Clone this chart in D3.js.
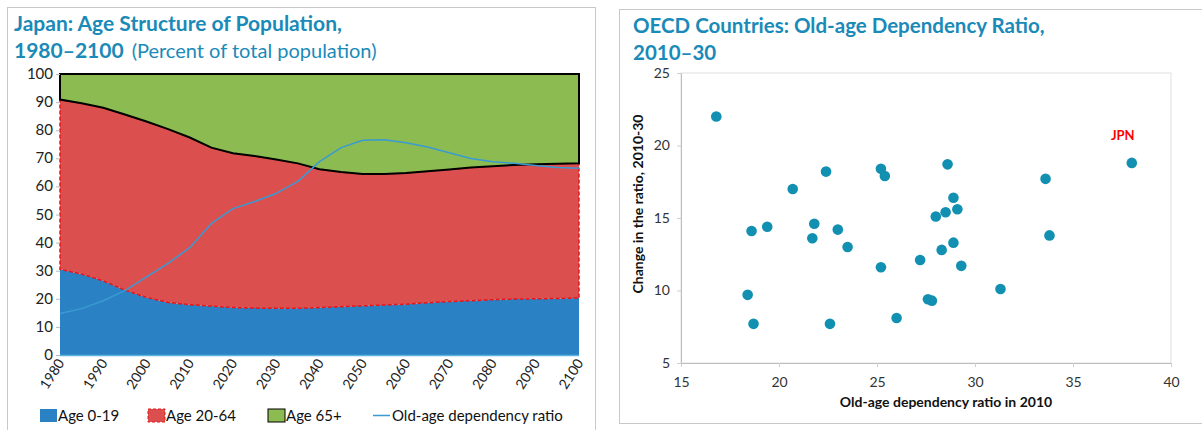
<!DOCTYPE html>
<html>
  <head>
    <meta charset="utf-8" />
    <script src="https://d3js.org/d3.v7.min.js"></script>
    <style>
      body { margin: 0; background: #fff; }
      svg { font-family: Lato, 'Open Sans', sans-serif; }
    </style>
    <title>Japan ageing</title>
  </head>
  <body>
    <div id="chart"></div>
  </body>
  <script>
    // left chart data (percent of total population, 5-year steps)
    var years = d3.range(1980, 2101, 5);
    var age0to19 = [30.5, 28.8, 26.4, 23.1, 20.5, 18.7, 17.9, 17.4, 16.9, 16.7, 16.6, 16.6, 16.9,
      17.2, 17.5, 17.8, 18.1, 18.6, 19.0, 19.3, 19.7, 19.9, 20.0, 20.1, 20.3];
    // share under 65 (0-19 plus 20-64)
    var under65 = [90.9, 89.6, 88.0, 85.6, 83.1, 80.4, 77.4, 73.8, 71.8, 70.8, 69.6, 68.2, 66.1,
      65.1, 64.4, 64.4, 64.8, 65.4, 66.0, 66.7, 67.2, 67.6, 67.9, 68.1, 68.2];
    var dependency = [14.8, 16.5, 19.3, 22.9, 27.8, 32.6, 38.2, 46.8, 52.1, 54.6, 57.5, 61.8, 68.8,
      73.8, 76.4, 76.6, 75.5, 74.0, 72.0, 69.9, 68.8, 68.2, 67.4, 66.7, 66.5];
    var yTicksLeft = d3.range(0, 101, 10);
    var xTicksLeft = d3.range(1980, 2101, 10);

    // right chart data (OECD countries)
    var ratio2010 = [16.8, 38.0, 33.6, 20.7, 22.4, 25.2, 25.4, 28.6, 28.9, 29.1, 28.5, 28.0, 18.6,
      19.4, 21.8, 23.0, 21.7, 23.5, 33.8, 28.9, 28.3, 27.2, 25.2, 29.3, 31.3, 18.4, 27.6, 27.8,
      18.7, 22.6, 26.0];
    var change2010to30 = [22.0, 18.8, 17.7, 17.0, 18.2, 18.4, 17.9, 18.7, 16.4, 15.6, 15.4, 15.1,
      14.1, 14.4, 14.6, 14.2, 13.6, 13.0, 13.8, 13.3, 12.8, 12.1, 11.6, 11.7, 10.1, 9.7, 9.4, 9.3,
      7.7, 7.7, 8.1];
    var countryLabels = ['', 'JPN'];
    var xTicksRight = [15, 20, 25, 30, 35, 40];
    var yTicksRight = [5, 10, 15, 20, 25];

    var titleColor = '#1a8ab8';

    var svg = d3.select('#chart').append('svg').attr('width', 1202).attr('height', 430);

    // panel frames
    svg.append('rect').attr('x', 7.5).attr('y', 7.5).attr('width', 588).attr('height', 430)
      .attr('fill', 'none').attr('stroke', '#c8c8c8');
    svg.append('rect').attr('x', 619.5).attr('y', 9.5).attr('width', 600).attr('height', 414)
      .attr('fill', 'none').attr('stroke', '#c8c8c8');

    // ---------- left chart ----------
    var xL = d3.scaleLinear().domain([1980, 2100]).range([60, 579]);
    var yL = d3.scaleLinear().domain([0, 100]).range([355, 74]);

    var rows = years.map(function (yr, i) {
      return {
        year: yr,
        young: age0to19[i],
        working: under65[i] - age0to19[i],
        old: 100 - under65[i],
      };
    });
    var stack = d3.stack().keys(['young', 'working', 'old']);
    var series = stack(rows);

    var area = d3.area()
      .x(function (d) { return xL(d.data.year); })
      .y0(function (d) { return yL(d[0]); })
      .y1(function (d) { return yL(d[1]); });

    var fills = { young: '#2a81c3', working: '#db4f4f', old: '#8bbb51' };
    var g = svg.append('g');
    g.selectAll('path.area')
      .data(series)
      .join('path')
      .attr('class', 'area')
      .attr('d', area)
      .attr('fill', function (d) { return fills[d.key]; })
      .attr('stroke', function (d) {
        return d.key == 'old' ? '#000' : d.key == 'working' ? '#e8161b' : 'none';
      })
      .attr('stroke-width', function (d) { return d.key == 'old' ? 2 : 1.5; })
      .attr('stroke-dasharray', function (d) { return d.key == 'working' ? '4,2' : null; });

    // bottom axis line
    svg.append('line').attr('x1', 60).attr('x2', 579).attr('y1', 355.5).attr('y2', 355.5)
      .attr('stroke', '#5bb3e0').attr('stroke-width', 1.5);

    // small y ticks
    svg.append('g').selectAll('line')
      .data(yTicksLeft)
      .join('line')
      .attr('x1', 56).attr('x2', 60)
      .attr('y1', function (d) { return yL(d) + 0.5; })
      .attr('y2', function (d) { return yL(d) + 0.5; })
      .attr('stroke', '#bbb');

    // dependency ratio line
    var line = d3.line()
      .x(function (d, i) { return xL(years[i]); })
      .y(function (d) { return yL(d); });
    svg.append('path').attr('d', line(dependency)).attr('fill', 'none')
      .attr('stroke', '#3a9ad2').attr('stroke-width', 1.5)
      .attr('stroke-linejoin', 'round');

    // y tick labels
    svg.append('g').selectAll('text')
      .data(yTicksLeft)
      .join('text')
      .attr('x', 53)
      .attr('y', function (d) { return yL(d) + 5; })
      .attr('text-anchor', 'end')
      .style('font-size', '15px')
      .style('fill', '#222')
      .text(function (d) { return d; });

    // x tick labels (rotated)
    svg.append('g').selectAll('text')
      .data(xTicksLeft)
      .join('text')
      .attr('transform', function (d) {
        return 'translate(' + (xL(d) + 5) + ',' + 363 + ') rotate(-57)';
      })
      .attr('text-anchor', 'end')
      .style('font-size', '14px')
      .style('fill', '#222')
      .text(function (d) { return d; });

    // titles
    svg.append('text').attr('x', 14).attr('y', 31)
      .style('font-size', '21px').style('font-weight', 'bold').style('fill', titleColor)
      .text('Japan: Age Structure of Population,');
    var t2 = svg.append('text').attr('x', 14).attr('y', 58)
      .style('font-size', '21px').style('fill', titleColor);
    t2.append('tspan').style('font-weight', 'bold').text('1980–2100');
    t2.append('tspan').attr('dx', 8).style('font-size', '20px').text('(Percent of total population)');

    // legend
    var legend = [
      { label: 'Age 0-19', x: 40, fill: '#2a81c3', stroke: 'none' },
      { label: 'Age 20-64', x: 148, fill: '#db4f4f', stroke: '#e8161b', dash: '3,2' },
      { label: 'Age 65+', x: 268, fill: '#8bbb51', stroke: '#000' },
    ];
    var lg = svg.append('g').selectAll('g').data(legend).join('g');
    lg.append('rect')
      .attr('x', function (d) { return d.x; })
      .attr('y', 409).attr('width', 17).attr('height', 13)
      .attr('fill', function (d) { return d.fill; })
      .attr('stroke', function (d) { return d.stroke; })
      .attr('stroke-dasharray', function (d) { return d.dash || null; });
    lg.append('text')
      .attr('x', function (d) { return d.x + 18; })
      .attr('y', 421)
      .style('font-size', '15px').style('fill', '#111')
      .text(function (d) { return d.label; });
    svg.append('line').attr('x1', 373).attr('x2', 390).attr('y1', 415.5).attr('y2', 415.5)
      .attr('stroke', '#3a9ad2').attr('stroke-width', 1.5);
    svg.append('text').attr('x', 392).attr('y', 421)
      .style('font-size', '15px').style('fill', '#111')
      .text('Old-age dependency ratio');

    // ---------- right chart ----------
    var xR = d3.scaleLinear().domain([15, 40]).range([681, 1171]);
    var yR = d3.scaleLinear().domain([5, 25]).range([363, 73]);

    svg.append('rect').attr('x', 681).attr('y', 73).attr('width', 490).attr('height', 290)
      .attr('fill', 'none').attr('stroke', '#e0e0e0');

    var xAxisR = d3.axisBottom(xR).tickValues(xTicksRight).tickSize(4).tickSizeOuter(0);
    var yAxisR = d3.axisLeft(yR).tickValues(yTicksRight).tickSize(4).tickSizeOuter(0);
    var gx = svg.append('g').attr('transform', 'translate(0,363)').call(xAxisR);
    var gy = svg.append('g').attr('transform', 'translate(681,0)').call(yAxisR);
    [gx, gy].forEach(function (ax) {
      ax.select('.domain').attr('stroke', '#bdbdbd');
      ax.selectAll('line').attr('stroke', '#d0d0d0');
      ax.selectAll('text').style('font-size', '14px').style('fill', '#333')
        .style('font-family', 'Lato, sans-serif');
    });
    gx.selectAll('text').attr('dy', '1.2em');
    gy.selectAll('text').attr('x', -11);

    svg.append('g').selectAll('circle')
      .data(ratio2010)
      .join('circle')
      .attr('cx', function (d) { return xR(d); })
      .attr('cy', function (d, i) { return yR(change2010to30[i]); })
      .attr('r', 5.3)
      .attr('fill', '#1190b1');

    svg.append('text').attr('x', xR(38.0) - 9).attr('y', yR(18.8) - 23)
      .attr('text-anchor', 'middle')
      .style('font-size', '13px').style('font-weight', 'bold').style('fill', '#ff0000')
      .text(countryLabels[1]);

    svg.append('text').attr('x', 946).attr('y', 407).attr('text-anchor', 'middle')
      .style('font-size', '14px').style('font-weight', 'bold').style('fill', '#111')
      .text('Old-age dependency ratio in 2010');
    svg.append('text').attr('transform', 'translate(643,204) rotate(-90)')
      .attr('text-anchor', 'middle')
      .style('font-size', '14px').style('font-weight', 'bold').style('fill', '#111')
      .text('Change in the ratio, 2010-30');

    svg.append('text').attr('x', 633).attr('y', 33)
      .style('font-size', '20.5px').style('font-weight', 'bold').style('fill', titleColor)
      .text('OECD Countries: Old-age Dependency Ratio,');
    svg.append('text').attr('x', 633).attr('y', 60)
      .style('font-size', '20.5px').style('font-weight', 'bold').style('fill', titleColor)
      .text('2010–30');
  </script>
</html>
